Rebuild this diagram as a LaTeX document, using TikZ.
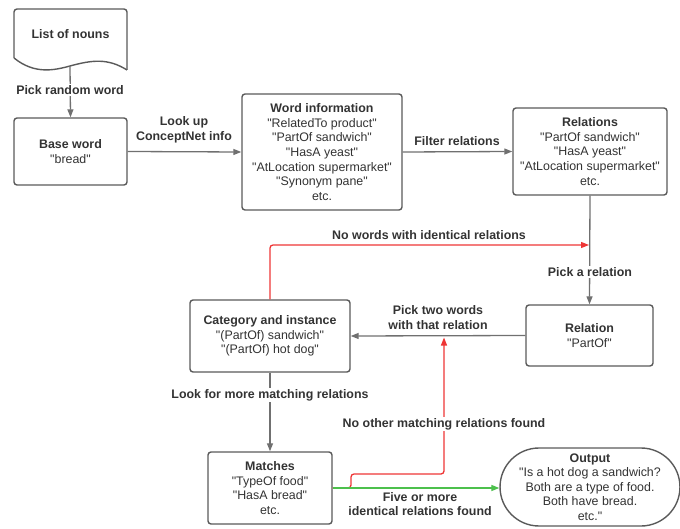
\documentclass[tikz,border=0pt]{standalone}
\usepackage{fontspec}
\setmainfont{Liberation Sans}
\usetikzlibrary{arrows.meta,shapes.misc}
\definecolor{txt}{HTML}{333333}
\definecolor{bord}{HTML}{5A5A5A}
\definecolor{ln}{HTML}{707070}
\definecolor{redl}{HTML}{EE3535}
\definecolor{greenl}{HTML}{4CC04C}
\newcommand{\qq}{\textquotedbl}
\tikzset{
  box/.style={draw=bord, line width=1.4pt, rounded corners=3pt, fill=white, align=center, text=txt, inner sep=0pt,
    font=\fontsize{12.4}{14.6}\selectfont},
  conn/.style={draw=ln, line width=1.3pt, -{Triangle[length=8pt,width=6pt]}},
  redconn/.style={draw=redl, line width=1.3pt, rounded corners=3pt, -{Triangle[length=8pt,width=6pt]}},
  greenconn/.style={draw=greenl, line width=1.3pt, -{Triangle[length=8pt,width=6pt]}},
  lab/.style={fill=white, text=txt, align=center, inner sep=1pt, font=\fontsize{12.4}{14.6}\selectfont\bfseries},
}
\begin{document}
\begin{tikzpicture}[x=1pt,y=-1pt]
\useasboundingbox (0,0) rectangle (680,529);
% document shape
\draw[draw=bord, line width=1.4pt, fill=white, rounded corners=3pt]
  (14,58) -- (14,9) -- (127,9) -- (127,70);
\draw[draw=bord, line width=1.4pt]
  (127,70) .. controls (108,58) and (92,60) .. (70,66) .. controls (55,70) and (35,75) .. (14,58);
\node[text=txt, font=\fontsize{12.4}{14.6}\selectfont\bfseries] (nouns) at (70.5,34) {List of nouns};
\coordinate (nounsbot) at (70,66);

\node[box, minimum width=113pt, minimum height=67pt] (base) at (70.5,151.5) {\textbf{Base word}\\\qq bread\qq};
\node[box, minimum width=160pt, minimum height=116pt] (info) at (322,152) {\textbf{Word information}\\\qq RelatedTo product\qq\\\qq PartOf sandwich\qq\\\qq HasA yeast\qq\\\qq AtLocation supermarket\qq\\\qq Synonym pane\qq\\etc.};
\node[box, minimum width=154pt, minimum height=87pt] (rels) at (590,151.5) {\textbf{Relations}\\\qq PartOf sandwich\qq\\\qq HasA yeast\qq\\\qq AtLocation supermarket\qq\\etc.};
\node[box, minimum width=127pt, minimum height=61pt] (rel) at (589.5,335.5) {\textbf{Relation}\\\qq PartOf\qq};
\node[box, minimum width=160pt, minimum height=72pt] (cat) at (270,336) {\textbf{Category and instance}\\\qq(PartOf) sandwich\qq\\\qq(PartOf) hot dog\qq};
\node[box, minimum width=124pt, minimum height=72pt] (match) at (270,488) {\textbf{Matches}\\\qq TypeOf food\qq\\\qq HasA bread\qq\\etc.};
\node[box, rounded rectangle, rounded corners=0pt, minimum width=166pt, minimum height=78pt] (out) at (590,487) {\textbf{Output}\\\qq Is a hot dog a sandwich?\\Both are a type of food.\\Both have bread.\\etc.\qq};

% connectors
\draw[conn] (nounsbot) -- (base.north);
\draw[conn] (base.east) -- (info.west);
\draw[conn] (info.east) -- (rels.west);
\draw[conn] (rels.south) -- (rel.north);
\draw[conn] (rel.west) -- (cat.east);
\draw[conn] (cat.south) -- (match.north);
\coordinate (redend) at (589,245);
\draw[redconn] (cat.north) |- (redend);
\coordinate (red2a) at (351,488);
\coordinate (red2b) at (444,474);
\coordinate (red2end) at (444,337.5);
\draw[redconn] (match.east |- red2a) -- (red2a) |- (red2b) -- (red2end);
\draw[greenconn] (match.east) -- (match.east -| out.west);

% labels
\node[lab] (l1) at (70,90) {Pick random word};
\node[lab, fill=none] (l2) at (184,129.5) {Look up\\ConceptNet info};
\node[lab, fill=none] (l3) at (457,141) {Filter relations};
\node[lab] (l4) at (590,272) {Pick a relation};
\node[lab, fill=none] (l5) at (429,235) {No words with identical relations};
\node[lab, fill=none] (l6) at (438,317.5) {Pick two words\\with that relation};
\node[lab] (l7) at (270,395) {Look for more matching relations};
\node[lab] (l8) at (444,424) {No other matching relations found};
\node[lab, fill=none] (l9) at (420,504) {Five or more\\identical relations found};
\end{tikzpicture}
\end{document}
